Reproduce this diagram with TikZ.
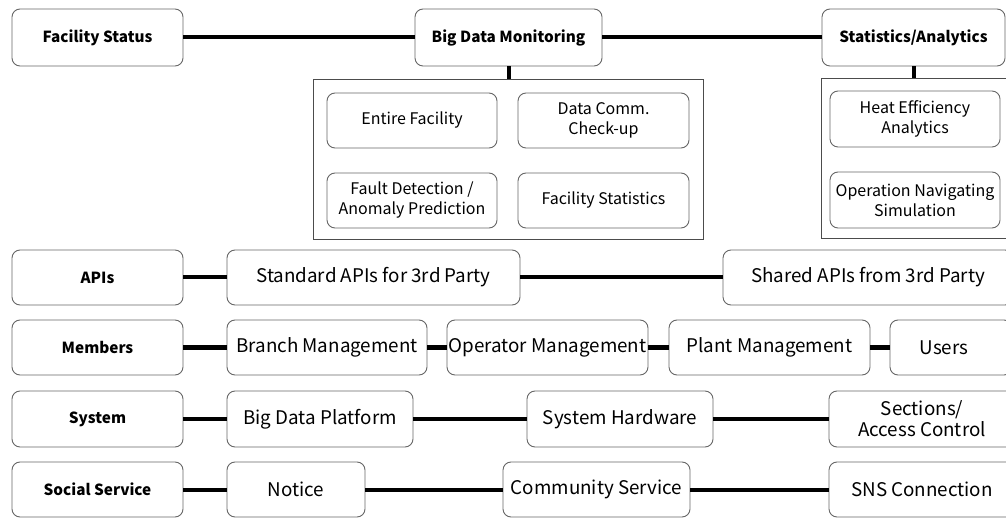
\documentclass[tikz,border=0pt]{standalone}
\usepackage{fontspec}
\setmainfont{Noto Sans CJK KR}
\begin{document}
\begin{tikzpicture}[x=1pt,y=-1pt,
  box/.style={draw=black!60, line width=0.9pt, rounded corners=8pt, fill=white, inner sep=0pt, align=center, font=\fontsize{18.8}{21}\selectfont},
  head/.style={box, font=\fontsize{15.3}{17}\selectfont\bfseries},
  inner/.style={box, font=\fontsize{16}{20}\selectfont},
  cont/.style={draw=black!70, line width=0.9pt, inner sep=0pt},
  link/.style={line width=4pt, black}]
\useasboundingbox (0,0) rectangle (1006,518);
\clip (0,0) rectangle (1006,518);
% row 1
\node[head, minimum width=171, minimum height=57] (fs) at (97.5,37.5) {Facility Status};
\node[head, minimum width=187, minimum height=57] (bdm) at (508.5,37.5) {Big Data Monitoring};
\node[head, minimum width=183, minimum height=57] (sa) at (913.5,37.5) {Statistics/Analytics};
\node[cont, minimum width=390, minimum height=160] (c1) at (508,159.5) {};
\node[cont, minimum width=191, minimum height=160] (c2) at (916.5,158) {};
\node[inner, minimum width=170, minimum height=55] (ef) at (412,120.5) {Entire Facility};
\node[inner, minimum width=171, minimum height=55] (dc) at (603.5,120.5) {Data Comm.\\Check-up};
\node[inner, minimum width=170, minimum height=55] (fd) at (412,200.5) {Fault Detection /\\Anomaly Prediction};
\node[inner, minimum width=171, minimum height=55] (fst) at (603.5,200.5) {Facility Statistics};
\node[inner, minimum width=170, minimum height=56] (he) at (915,119) {Heat Efficiency\\Analytics};
\node[inner, minimum width=170, minimum height=56] (on) at (915,200) {Operation Navigating\\Simulation};
\draw[link] (fs) -- (bdm);
\draw[link] (bdm) -- (sa);
\draw[link] (bdm.south) -- (bdm.south |- c1.north);
\draw[link] (sa.south) -- (sa.south |- c2.north);
% row 2
\node[head, minimum width=171, minimum height=55] (apis) at (97.5,277.5) {APIs};
\node[box, minimum width=293, minimum height=55] (std) at (373.5,277.5) {Standard APIs for 3rd Party};
\node[box, minimum width=290, minimum height=55] (shr) at (868,277.5) {Shared APIs from 3rd Party};
\draw[link] (apis) -- (std);
\draw[link] (std) -- (shr);
% row 3
\node[head, minimum width=171, minimum height=55] (mem) at (97.5,347.5) {Members};
\node[box, minimum width=200, minimum height=55] (bm) at (327,347.5) {Branch Management};
\node[box, minimum width=201, minimum height=55] (om) at (547.5,347.5) {Operator Management};
\node[box, minimum width=201, minimum height=55] (pm) at (769.5,347.5) {Plant Management};
\node[box, minimum width=122, minimum height=55] (us) at (951,347.5) {\hspace*{-14pt}Users};
\draw[link] (mem) -- (bm);
\draw[link] (bm) -- (om);
\draw[link] (om) -- (pm);
\draw[link] (pm) -- (us);
% row 4
\node[head, minimum width=171, minimum height=56] (sys) at (97.5,419) {System};
\node[box, minimum width=186, minimum height=56] (bdp) at (320,419) {Big Data Platform};
\node[box, minimum width=186, minimum height=56] (sh) at (620,419) {System Hardware};
\node[box, minimum width=186, minimum height=56] (sac) at (922,419) {Sections/\\Access Control};
\draw[link] (sys) -- (bdp);
\draw[link] (bdp) -- (sh);
\draw[link] (sh) -- (sac);
% row 5
\node[head, minimum width=171, minimum height=55] (ss) at (97.5,489.5) {Social Service};
\node[box, minimum width=138, minimum height=55] (no) at (296,489.5) {Notice};
\node[box, minimum width=187, minimum height=55] (cs) at (596.5,489.5) {Community Service};
\node[box, minimum width=186, minimum height=55] (sns) at (922,489.5) {SNS Connection};
\draw[link] (ss) -- (no);
\draw[link] (no) -- (cs);
\draw[link] (cs) -- (sns);
\end{tikzpicture}
\end{document}
